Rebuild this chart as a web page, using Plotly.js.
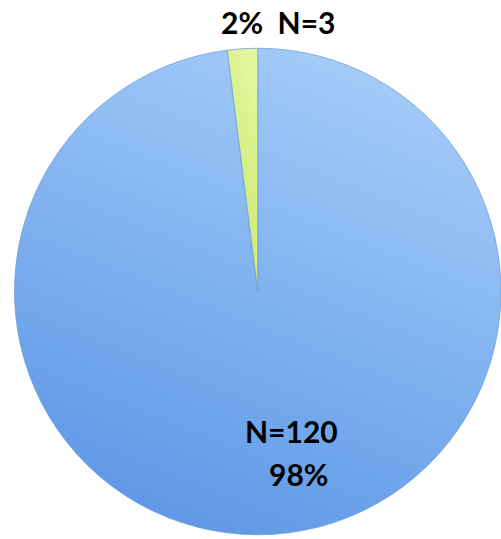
<!DOCTYPE html>
<html>
<head>
<meta charset="utf-8">
<script src="https://cdn.plot.ly/plotly-3.0.1.min.js"></script>
<style>
  html, body { margin: 0; padding: 0; background: #ffffff; }
  #chart { width: 501px; height: 539px; }
</style>
</head>
<body>
<div id="chart"></div>
<script>
// Share of each group (percent) and the head count behind it
const groups   = ['Large group', 'Small group'];
const percents = [98, 2];
const counts   = [120, 3];
const sliceColors = ['#7fb1f0', '#d6ef82'];

// Label texts
const smallLabel = percents[1] + '%  N=' + counts[1];
const largeCount = 'N=' + counts[0];
const largePct   = percents[0] + '%';

const trace = {
  type: 'pie',
  labels: groups,
  values: percents,
  sort: false,
  direction: 'clockwise',
  rotation: 0,
  textinfo: 'none',
  hoverinfo: 'none',
  marker: {
    colors: sliceColors,
    line: { color: '#6f9fd8', width: 0.8 }
  },
  domain: { x: [14.5 / 501, 1], y: [4 / 539, 491 / 539] },
  showlegend: false
};

const labelFont = { family: 'Lato, "Open Sans", sans-serif', size: 30, color: '#000000', weight: 'bold' };

const layout = {
  width: 501,
  height: 539,
  margin: { l: 0, r: 0, t: 0, b: 0 },
  paper_bgcolor: '#ffffff',
  showlegend: false,
  annotations: [
    { text: '<b>' + smallLabel + '</b>', xref: 'paper', yref: 'paper',
      x: 278 / 501, y: 1 - 22 / 539, xanchor: 'center', yanchor: 'middle',
      showarrow: false, font: labelFont },
    { text: '<b>' + largeCount + '</b>', xref: 'paper', yref: 'paper',
      x: 291 / 501, y: 1 - 431 / 539, xanchor: 'center', yanchor: 'middle',
      showarrow: false, font: labelFont },
    { text: '<b>' + largePct + '</b>', xref: 'paper', yref: 'paper',
      x: 298 / 501, y: 1 - 474 / 539, xanchor: 'center', yanchor: 'middle',
      showarrow: false, font: labelFont }
  ]
};

// Soft shading on the slices, light at the top and deeper at the bottom
const shadeIds = ['shadeLarge', 'shadeSmall'];
function shadeSlices(gd) {
  const svg = gd.querySelector('svg.main-svg');
  if (!svg) return;
  const NS = 'http://www.w3.org/2000/svg';
  let defs = svg.querySelector('defs');
  if (!defs) { defs = document.createElementNS(NS, 'defs'); svg.insertBefore(defs, svg.firstChild); }
  const grads = [
    { id: 'shadeSmall', stops: [['0', '#e4f7a0'], ['1', '#c8e468']] },
    { id: 'shadeLarge', stops: [['0', '#a6ccf9'], ['0.5', '#80b2f0'], ['1', '#5d97e5']] }
  ];
  grads.forEach(g => {
    if (defs.querySelector('#' + g.id)) return;
    const lg = document.createElementNS(NS, 'linearGradient');
    lg.setAttribute('id', g.id);
    lg.setAttribute('x1', '0.7'); lg.setAttribute('y1', '0');
    lg.setAttribute('x2', '0.3'); lg.setAttribute('y2', '1');
    g.stops.forEach(s => {
      const st = document.createElementNS(NS, 'stop');
      st.setAttribute('offset', s[0]);
      st.setAttribute('stop-color', s[1]);
      lg.appendChild(st);
    });
    defs.appendChild(lg);
  });
  const paths = gd.querySelectorAll('g.slice path.surface');
  paths.forEach((p, i) => {
    if (shadeIds[i]) p.style.fill = 'url(#' + shadeIds[i] + ')';
  });
}

Plotly.newPlot('chart', [trace], layout, { displayModeBar: false, staticPlot: true })
  .then(gd => { shadeSlices(gd); gd.on('plotly_afterplot', () => shadeSlices(gd)); });
</script>
</body>
</html>
